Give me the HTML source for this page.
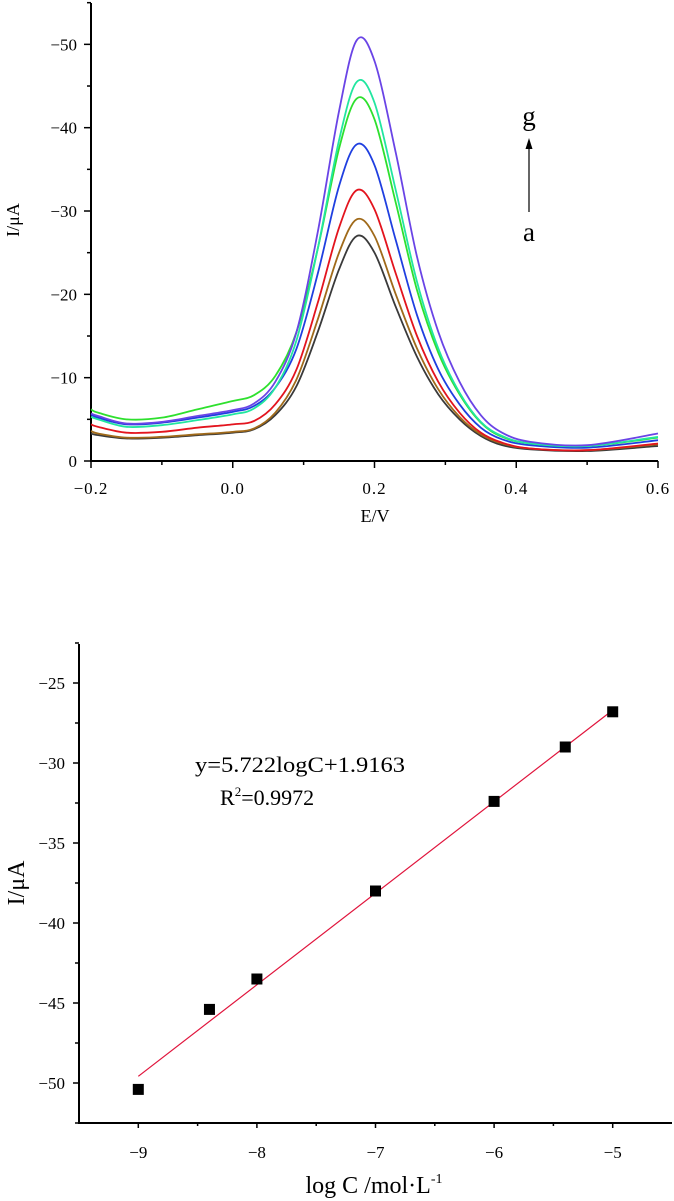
<!DOCTYPE html>
<html><head><meta charset="utf-8"><style>
html,body{margin:0;padding:0;background:#fff;}
svg{display:block;font-family:"Liberation Serif","Noto Serif CJK SC",serif;}
</style></head><body>
<svg id="fig" width="674" height="1201" viewBox="0 0 674 1201">
<g id="topchart"></g>
<g id="botchart"></g>
</svg>
<script>
// ---------- Top chart data ----------
const potentials = [-0.2,-0.19,-0.15,-0.1,-0.05,0,0.03,0.06,0.09,0.12,0.15,0.175,0.2,0.23,0.26,0.29,0.32,0.35,0.38,0.42,0.5,0.6];
const curveA = [-3.3,-3.1,-2.7,-2.8,-3.1,-3.4,-3.8,-5.5,-9,-15.5,-23,-27,-25,-18.5,-12.5,-8,-5,-3,-1.9,-1.4,-1.2,-1.8];
const curveB = [-3.6,-3.3,-2.8,-2.9,-3.2,-3.5,-3.9,-5.8,-9.8,-17,-25,-29,-27,-20,-13.5,-8.6,-5.3,-3.2,-2.1,-1.5,-1.3,-2.0];
const curveC = [-4.4,-4.1,-3.4,-3.5,-4,-4.4,-4.8,-6.8,-11,-19,-28,-32.5,-30.2,-22.5,-15,-9.5,-5.8,-3.4,-2.2,-1.5,-1.3,-2.1];
const curveD = [-5.6,-5.2,-4.4,-4.6,-5.2,-5.9,-6.6,-8.8,-13.5,-22.5,-33,-38,-35.5,-26.5,-17.5,-11,-6.8,-4,-2.6,-1.9,-1.6,-2.5];
const curveE = [-6.2,-5.8,-5,-5.2,-6.2,-7.2,-7.9,-10.2,-15.5,-25.5,-37.5,-43.5,-41,-31,-20.5,-13,-8,-4.6,-2.9,-2.1,-1.8,-2.8];
const curveF = [-5.3,-5,-4.1,-4.3,-4.9,-5.6,-6.3,-8.8,-14.5,-25.5,-38.5,-45.5,-43,-32.5,-21.5,-13.5,-8.2,-4.7,-3,-2.1,-1.8,-2.9];
const curveG = [-5.7,-5.4,-4.5,-4.7,-5.4,-6.1,-6.9,-9.5,-15.5,-27.5,-42,-50.5,-48,-37,-24.5,-15.5,-9.5,-5.5,-3.4,-2.3,-1.9,-3.3];
const topXTicks = ["-0.2","0.0","0.2","0.4","0.6"];
const topYTicks = ["0","-10","-20","-30","-40","-50"];
// ---------- Bottom chart data ----------
const logC = [-9,-8.4,-8,-7,-6,-5.4,-5];
const currents = [-50.4,-45.4,-43.5,-38,-32.4,-29,-26.8];
const slope = 5.722, intercept = 1.9163;
const botXTicks = ["-9","-8","-7","-6","-5"];
const botYTicks = ["-50","-45","-40","-35","-30","-25"];

const NS="http://www.w3.org/2000/svg";
function mk(parent,tag,attrs,text){const e=document.createElementNS(NS,tag);for(const k in attrs)e.setAttribute(k,attrs[k]);if(text!==undefined)e.textContent=text;parent.appendChild(e);return e;}
function label(s){return s.replace('-','\u2212');}

// ===== Top chart =====
const topG=document.getElementById('topchart');
const tx=v=>91+(v+0.2)/0.8*567;
const ty=v=>461+v*8.333;
let e;
e=mk(topG,'line',{x1:91,y1:3,x2:91,y2:461,stroke:'#000','stroke-width':2});


e=mk(topG,'line',{x1:90,y1:461,x2:658,y2:461,stroke:'#000','stroke-width':2});


for(let i=0;i<=8;i++){const v=-0.2+i*0.1;const x=tx(v);
 e=mk(topG,'line',{x1:x,y1:461,x2:x,y2:i%2?465:468,stroke:'#000','stroke-width':1.5});
 
 }
topXTicks.forEach((t,i)=>{e=mk(topG,'text',{x:tx(-0.2+i*0.2),y:494,'text-anchor':'middle','font-size':17,'letter-spacing':'1'},label(t));
 
 });
for(let i=0;i<=11;i++){const y=ty(-i*5);
 e=mk(topG,'line',{x1:91,y1:y,x2:i%2?87:84,y2:y,stroke:'#000','stroke-width':1.5});
 
 }
topYTicks.forEach((t,i)=>{e=mk(topG,'text',{x:77,y:ty(-i*10)+6,'text-anchor':'end','font-size':17},label(t));
 
 });
e=mk(topG,'text',{x:375,y:522,'text-anchor':'middle','font-size':18},'E/V');


e=mk(topG,'text',{x:0,y:0,'text-anchor':'middle','font-size':18,transform:'translate(19,220) rotate(-90)'},'I/\u03bcA');



function smoothPath(xs,ys){let d='M'+xs[0]+','+ys[0];
 for(let i=0;i<xs.length-1;i++){const x0=xs[Math.max(i-1,0)],y0=ys[Math.max(i-1,0)],x1=xs[i],y1=ys[i],x2=xs[i+1],y2=ys[i+1],x3=xs[Math.min(i+2,xs.length-1)],y3=ys[Math.min(i+2,xs.length-1)];
  d+=' C'+(x1+(x2-x0)/6)+','+(y1+(y2-y0)/6)+' '+(x2-(x3-x1)/6)+','+(y2-(y3-y1)/6)+' '+x2+','+y2;}
 return d;}
const series=[[curveA,'#3a3a3a','curve-a'],[curveB,'#a06a1a','curve-b'],[curveC,'#e3141e','curve-c'],[curveD,'#1f3fe0','curve-d'],[curveE,'#2ee02e','curve-e'],[curveF,'#22e6a0','curve-f'],[curveG,'#6a44e6','curve-g']];
series.forEach(s=>{const xs=potentials.map(tx),ys=s[0].map(ty);
 e=mk(topG,'path',{d:smoothPath(xs,ys),fill:'none',stroke:s[1],'stroke-width':1.8});
 
 });
e=mk(topG,'text',{x:529,y:125,'text-anchor':'middle','font-size':27},'g');


e=mk(topG,'line',{x1:529,y1:212,x2:529,y2:146,stroke:'#000','stroke-width':1.2});


e=mk(topG,'polygon',{points:'529,138 525.5,149 532.5,149',fill:'#000'});


e=mk(topG,'text',{x:529,y:241,'text-anchor':'middle','font-size':27},'a');



// ===== Bottom chart =====
const botG=document.getElementById('botchart');
const bx=v=>79+(v+9.5)*118.6;
const by=v=>1083-(v+50)*16;
e=mk(botG,'line',{x1:79,y1:644,x2:79,y2:1123,stroke:'#000','stroke-width':2});


e=mk(botG,'line',{x1:78,y1:1123,x2:672,y2:1123,stroke:'#000','stroke-width':2});


for(let i=1;i<=9;i++){const x=bx(-9.5+i*0.5);
 e=mk(botG,'line',{x1:x,y1:1123,x2:x,y2:i%2?1128:1126,stroke:'#000','stroke-width':1.5});
 
 }
botXTicks.forEach((t,i)=>{e=mk(botG,'text',{x:bx(-9+i),y:1158,'text-anchor':'middle','font-size':17},label(t));
 
 });
for(let i=0;i<=12;i++){const y=by(-52.5+i*2.5);
 e=mk(botG,'line',{x1:79,y1:y,x2:i%2?73:75,y2:y,stroke:'#000','stroke-width':1.5});
 
 }
botYTicks.forEach((t,i)=>{e=mk(botG,'text',{x:65,y:by(-50+i*5)+6,'text-anchor':'end','font-size':17},label(t));
 
 });
e=mk(botG,'text',{x:0,y:0,'text-anchor':'middle','font-size':24,transform:'translate(24,883) rotate(-90)'},'I/\u03bcA');


const xt=mk(botG,'text',{x:374,y:1193,'text-anchor':'middle','font-size':24},'log C /mol\u00b7L');


mk(xt,'tspan',{dy:-10,'font-size':14},'-1');
const xmin=logC[0],xmax=logC[logC.length-1];
e=mk(botG,'line',{x1:bx(xmin),y1:by(slope*xmin+intercept),x2:bx(xmax),y2:by(slope*xmax+intercept),stroke:'#e0143c','stroke-width':1.2});


logC.forEach((c,i)=>{e=mk(botG,'rect',{x:bx(c)-5.5,y:by(currents[i])-5.5,width:11,height:11,fill:'#000'});
 
 });
e=mk(botG,'text',{x:195,y:772,'font-size':22,textLength:210,lengthAdjust:'spacingAndGlyphs'},'y=5.722logC+1.9163');


const r2=mk(botG,'text',{x:220,y:805,'font-size':22},'R');


mk(r2,'tspan',{dy:-9,'font-size':13},'2');
mk(r2,'tspan',{dy:9},'=0.9972');
</script>
</body></html>
